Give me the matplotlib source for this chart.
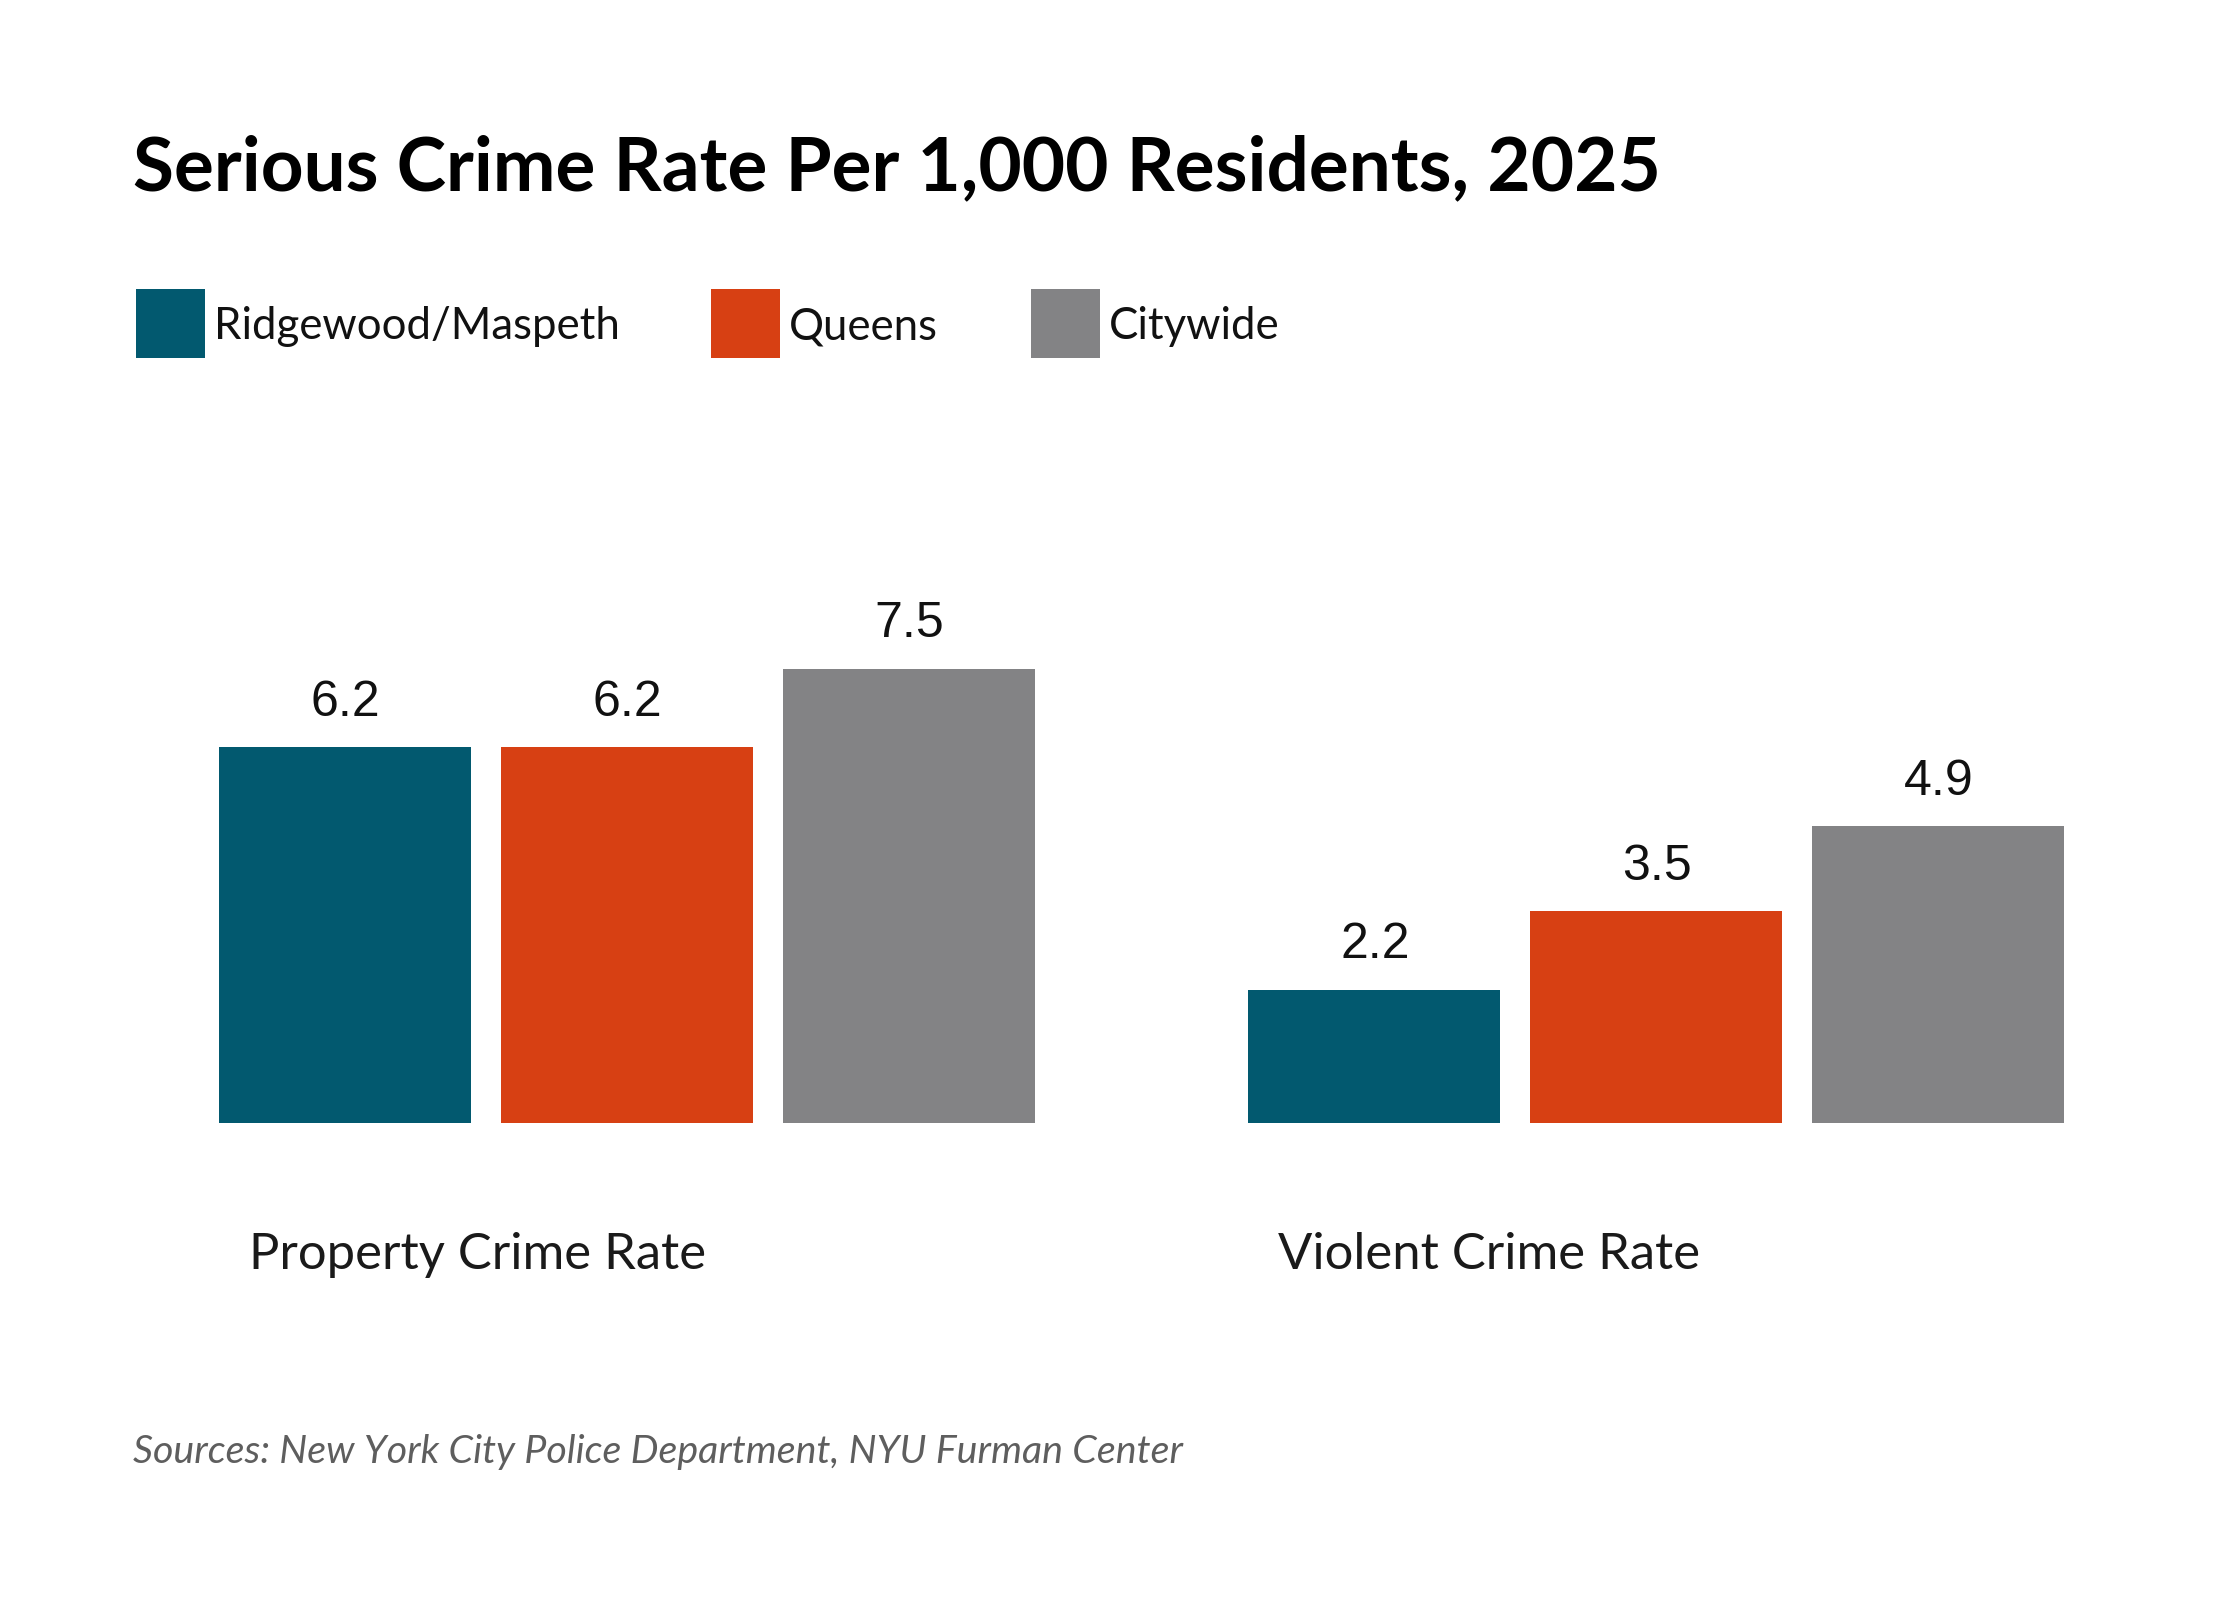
import matplotlib
matplotlib.use("Agg")
import matplotlib.pyplot as plt
from matplotlib.patches import Rectangle

# data
groups = ["Property Crime Rate", "Violent Crime Rate"]
series = ["Ridgewood/Maspeth", "Queens", "Citywide"]
colors = ["#02596F", "#D74013", "#838385"]
values = {
    "Ridgewood/Maspeth": [6.2, 2.2],
    "Queens": [6.2, 3.5],
    "Citywide": [7.5, 4.9],
}

W, H = 2240, 1600
fig = plt.figure(figsize=(W / 100, H / 100), dpi=100)
fig.patch.set_facecolor("white")

# axes placed in pixels: bars span x 219..2064, baseline at y=1123
ax_left, ax_right = 219, 2064
base_y, top_y = 1123, 517
ax = fig.add_axes([ax_left / W, (H - base_y) / H, (ax_right - ax_left) / W, (base_y - top_y) / H])

group_centers = [0, 3.65]
bar_w = 0.894
for i, name in enumerate(series):
    xs = [c + (i - 1) for c in group_centers]
    ax.bar(xs, values[name], width=bar_w, color=colors[i], linewidth=0)
    for x, v in zip(xs, values[name]):
        ax.annotate(f"{v:.1f}", (x, v), xytext=(0.5, 22.5), textcoords="offset points",
                    ha="center", va="baseline", fontsize=36, family="Liberation Sans",
                    color="#111111")

ax.set_xlim(-1 - bar_w / 2, group_centers[-1] + 1 + bar_w / 2)
ax.set_ylim(0, 10)
ax.axis("off")

for c, g in zip(group_centers, groups):
    ax.text(c - 1 - bar_w / 2 + 0.107, -0.218, g, transform=ax.get_xaxis_transform(),
            ha="left", va="center", fontsize=36.5, family="Lato", color="#1a1a1a")

# title
fig.text(133 / W, 1 - 190 / H, "Serious Crime Rate Per 1,000 Residents, 2025",
         ha="left", va="baseline", fontsize=53.8, fontweight="bold", family="Lato",
         color="#000000")

# legend
leg_x = [136, 711, 1031]
sq = 69
leg_top = 289
for x, name, col in zip(leg_x, series, colors):
    fig.add_artist(Rectangle((x / W, 1 - (leg_top + sq) / H), sq / W, sq / H,
                             transform=fig.transFigure, color=col, linewidth=0))
    fig.text((x + sq + 9) / W, 1 - (leg_top + sq / 2 + 3) / H, name, ha="left", va="center",
             fontsize=31.5, family="Lato", color="#111111")

# source
fig.text(133 / W, 1 - 1452 / H, "Sources: New York City Police Department, NYU Furman Center",
         ha="left", va="center", fontsize=28.4, family="Lato", style="italic",
         color="#5e5e5e")

fig.savefig("out.png", dpi=100, facecolor="white")
